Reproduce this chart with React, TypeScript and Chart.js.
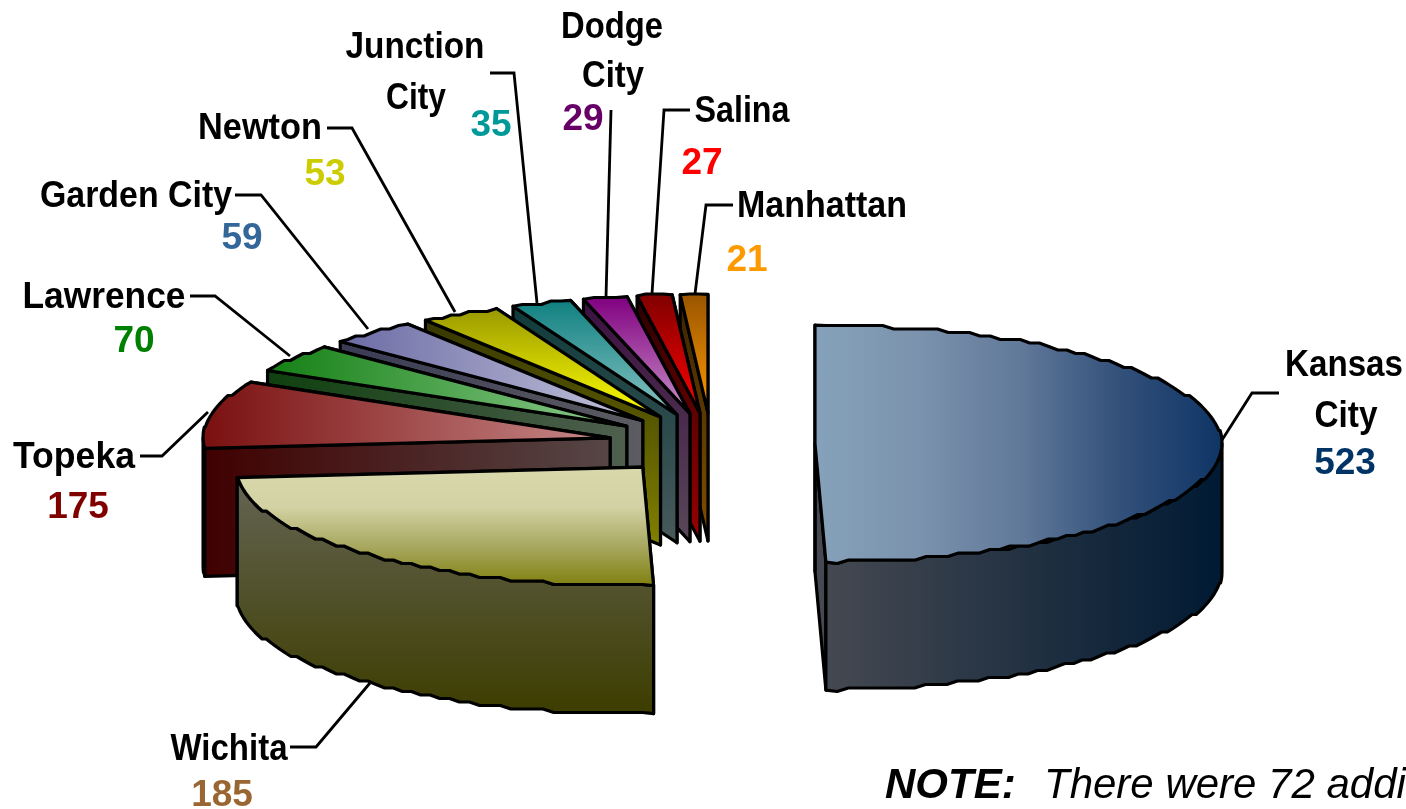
import React, { useEffect, useRef } from "react";
import { Chart, registerables } from "chart.js";

Chart.register(...registerables);

const categories = ["Kansas City", "Wichita", "Topeka", "Lawrence", "Garden City", "Newton", "Junction City", "Dodge City", "Salina", "Manhattan"];
const cityCounts = [523, 185, 175, 70, 59, 53, 35, 29, 27, 21];
const valueColors = ["#003366", "#996633", "#800000", "#008000", "#336699", "#CCCC00", "#009999", "#660066", "#FF0000", "#FF9900"];

// The 3D view of the original chart foreshortens angles: [pie angle, drawn angle], degrees clockwise from 12 o'clock.
const viewAngleKnots = [[0, 0], [160, 178.5], [216.6, 265], [270, 298], [291.5, 312], [309.5, 324.7], [325.7, 336.2], [336.4, 344.8], [345.3, 351.1], [353.6, 356.1], [360, 360]];

const VIEW = { scaleX: 407 / 365, scaleY: 118.5 / 365, depth: 128, explode: 103.5, explodeY: 0.3, rimStep: 3.5 };

const sliceStyles = [
  { dir: "h", top: ["#86a2ba", "#7b93ad", "#627a9a", "#32507a", "#0f3566"], wall: ["#474a52", "#001a33"] },
  { dir: "v", top: ["#d8d8ac", "#d2d2a4", "#a8a860", "#808010"], wall: ["#666658", "#3d3d00"] },
  { dir: "h", top: ["#7a1010", "#c88a8a"], wall: ["#400000", "#564646"] },
  { dir: "h", top: ["#148014", "#90cc90"], wall: ["#0f400f", "#4f5f4f"] },
  { dir: "h", top: ["#6b6ba5", "#c4c4dc"], wall: ["#3a3a55", "#5c5c62"] },
  { dir: "v", top: ["#999900", "#ffff00"], wall: ["#333300", "#808000"] },
  { dir: "v", top: ["#108080", "#88c4c4"], wall: ["#0e3a3a", "#485a5c"] },
  { dir: "v", top: ["#800080", "#c890c8"], wall: ["#3a0f40", "#584858"] },
  { dir: "v", top: ["#800000", "#ff0000"], wall: ["#2a0000", "#990000"] },
  { dir: "v", top: ["#995500", "#ff9900"], wall: ["#3a2200", "#805000"] },
];

// text, centre x, baseline y, drawn width
const nameLabels = [
  { lines: [["Kansas", 1344, 376, 118], ["City", 1346, 427, 63]], value: [1345, 474], leader: [[1279, 393], [1252, 393], [1222, 440]] },
  { lines: [["Wichita", 229, 760, 117]], value: [222, 806], leader: [[290, 747], [316, 747], [370, 683]] },
  { lines: [["Topeka", 74, 468, 122]], value: [78, 518], leader: [[140, 456], [162, 456], [208, 412]] },
  { lines: [["Lawrence", 104, 308, 163]], value: [134, 352], leader: [[190, 296], [215, 296], [290, 356]] },
  { lines: [["Garden City", 136, 207, 192]], value: [242, 249], leader: [[235, 195], [261, 195], [368, 329]] },
  { lines: [["Newton", 260, 139, 124]], value: [325, 185], leader: [[327, 128], [352, 128], [455, 312]] },
  { lines: [["Junction", 415, 58, 139], ["City", 416, 109, 60]], value: [491, 136], leader: [[490, 73], [514, 73], [537, 303]] },
  { lines: [["Dodge", 612, 38, 102], ["City", 613, 87, 62]], value: [583, 130], leader: [[611, 110], [606, 297]] },
  { lines: [["Salina", 742, 122, 95]], value: [702, 174], leader: [[690, 110], [664, 110], [652, 294]] },
  { lines: [["Manhattan", 822, 217, 170]], value: [747, 271], leader: [[733, 205], [706, 205], [695, 294]] },
];

const NOTE_BOLD = "NOTE:";
const NOTE_TEXT = "There were 72 addi";

const toView = (deg: number) => {
  for (let i = 1; i < viewAngleKnots.length; i++) {
    const [a0, b0] = viewAngleKnots[i - 1];
    const [a1, b1] = viewAngleKnots[i];
    if (deg <= a1) return b0 + ((deg - a0) / (a1 - a0)) * (b1 - b0);
  }
  return 360;
};

type P = { x: number; y: number };

const pie3dPlugin = {
  id: "pie3d",
  beforeDatasetsDraw(chart: any) {
    const ctx: CanvasRenderingContext2D = chart.ctx;
    const arcs = chart.getDatasetMeta(0).data;
    const order = arcs.map((_: any, i: number) => i).reverse();
    order.pop();
    order.push(0);

    ctx.save();
    ctx.lineJoin = "round";
    ctx.lineCap = "round";
    ctx.strokeStyle = "#000";

    const poly = (pts: P[], fill: any, lw = 3.2) => {
      ctx.beginPath();
      pts.forEach((p, i) => (i ? ctx.lineTo(p.x, p.y) : ctx.moveTo(p.x, p.y)));
      ctx.closePath();
      ctx.fillStyle = fill;
      ctx.fill();
      ctx.lineWidth = lw;
      ctx.stroke();
    };
    const gradient = (pts: P[], dir: string, stops: string[]) => {
      const xs = pts.map((p) => p.x);
      const ys = pts.map((p) => p.y);
      const g = dir === "h"
        ? ctx.createLinearGradient(Math.min(...xs), 0, Math.max(...xs), 0)
        : ctx.createLinearGradient(0, Math.min(...ys), 0, Math.max(...ys));
      stops.forEach((c, i) => g.addColorStop(i / (stops.length - 1), c));
      return g;
    };

    for (const i of order) {
      const arc = arcs[i].getProps(["x", "y", "startAngle", "endAngle", "outerRadius"], true);
      const s = sliceStyles[i];
      const phi1 = toView(((arc.startAngle + Math.PI / 2) * 180) / Math.PI);
      const phi2 = toView(((arc.endAngle + Math.PI / 2) * 180) / Math.PI);
      const rx = arc.outerRadius * VIEW.scaleX;
      const ry = arc.outerRadius * VIEW.scaleY;
      const mid = (((phi1 + phi2) / 2) * Math.PI) / 180;
      const A: P = {
        x: arc.x + VIEW.explode * Math.sin(mid),
        y: arc.y - VIEW.explode * VIEW.explodeY * Math.cos(mid),
      };
      const rim = (deg: number, snap: boolean): P => {
        const t = (deg * Math.PI) / 180;
        const y = A.y - ry * Math.cos(t);
        return { x: A.x + rx * Math.sin(t), y: snap ? Math.round(y / VIEW.rimStep) * VIEW.rimStep : y };
      };
      const arcPts = (a: number, b: number) => {
        const n = Math.max(1, Math.ceil((b - a) / 1.6));
        const pts: P[] = [];
        for (let k = 0; k <= n; k++) pts.push(rim(a + ((b - a) * k) / n, k > 0 && k < n));
        return pts;
      };
      const down = (p: P): P => ({ x: p.x, y: p.y + VIEW.depth });
      const topRim = arcPts(phi1, phi2);
      const topFace = [A, ...topRim];
      const solid = [...topFace, ...topFace.map(down)];
      const wallFill = gradient(solid, s.dir, s.wall);

      const P1 = rim(phi1, false);
      const P2 = rim(phi2, false);
      poly([A, P2, down(P2), down(A)], wallFill);
      poly([A, P1, down(P1), down(A)], wallFill);
      const w1 = Math.max(phi1, 90);
      const w2 = Math.min(phi2, 270);
      if (w2 > w1) {
        const r = arcPts(w1, w2);
        poly([...r, ...r.slice().reverse().map(down)], wallFill);
      }
      poly(topFace, gradient(topFace, s.dir, s.top));
    }
    ctx.restore();
    return false;
  },
  afterDraw(chart: any) {
    const ctx: CanvasRenderingContext2D = chart.ctx;
    ctx.save();
    ctx.strokeStyle = "#000";
    ctx.lineWidth = 2.8;
    ctx.lineJoin = "miter";
    ctx.textAlign = "center";
    ctx.textBaseline = "alphabetic";
    nameLabels.forEach((l, i) => {
      ctx.strokeStyle = "#000";
      ctx.lineWidth = 2.8;
      ctx.beginPath();
      l.leader.forEach(([x, y], k) => (k ? ctx.lineTo(x, y) : ctx.moveTo(x, y)));
      ctx.stroke();
      ctx.fillStyle = "#000";
      ctx.font = "bold 37px 'Liberation Sans'";
      l.lines.forEach(([t, x, y, w]) => {
        const sx = (w as number) / ctx.measureText(t as string).width;
        ctx.save();
        ctx.translate(x as number, y as number);
        ctx.scale(sx, 1);
        ctx.fillText(t as string, 0, 0);
        ctx.restore();
      });
      ctx.fillStyle = valueColors[i];
      ctx.font = "bold 37px 'Liberation Sans'";
      ctx.fillText(String(cityCounts[i]), l.value[0], l.value[1]);
    });
    ctx.textAlign = "left";
    ctx.fillStyle = "#000";
    ctx.font = "italic bold 42px 'Liberation Sans'";
    ctx.fillText(NOTE_BOLD, 885, 798);
    ctx.font = "italic 42px 'Liberation Sans'";
    ctx.fillText(NOTE_TEXT, 1044, 798);
    ctx.restore();
  },
};

export default function App() {
  const ref = useRef<HTMLCanvasElement>(null);
  useEffect(() => {
    const chart = new Chart(ref.current!, {
      type: "pie",
      data: {
        labels: categories,
        datasets: [{ data: cityCounts, backgroundColor: valueColors, borderWidth: 0 }],
      },
      options: {
        responsive: false,
        animation: false,
        layout: { padding: { left: 17, top: 79, right: 0, bottom: 0 } },
        plugins: { legend: { display: false }, tooltip: { enabled: false } },
      },
      plugins: [pie3dPlugin],
    } as any);
    return () => chart.destroy();
  }, []);
  return (
    <canvas
      ref={ref}
      width={1406}
      height={809}
      style={{ position: "absolute", left: 0, top: 0, display: "block", width: 1406, height: 809 }}
    />
  );
}
